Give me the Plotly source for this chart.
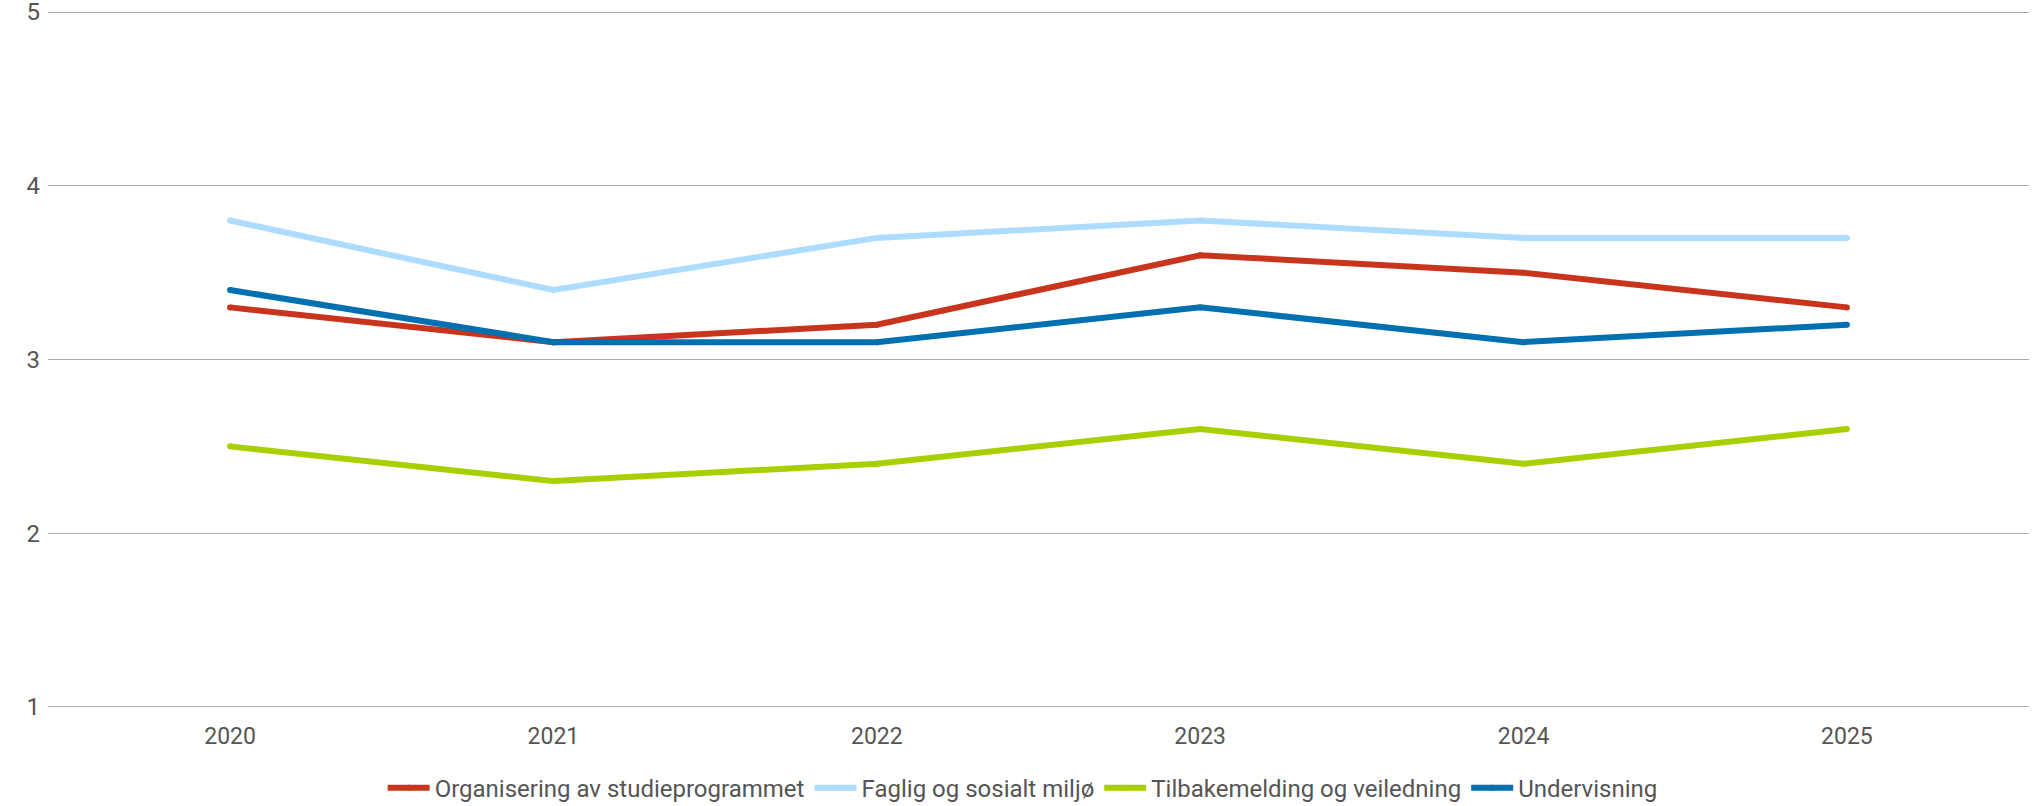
import plotly.graph_objects as go

years = ["2020", "2021", "2022", "2023", "2024", "2025"]
organisering = [3.3, 3.1, 3.2, 3.6, 3.5, 3.3]
faglig = [3.8, 3.4, 3.7, 3.8, 3.7, 3.7]
tilbakemelding = [2.5, 2.3, 2.4, 2.6, 2.4, 2.6]
undervisning = [3.4, 3.1, 3.1, 3.3, 3.1, 3.2]

series = [
    ("Organisering av studieprogrammet", organisering, "#c8341c"),
    ("Faglig og sosialt miljø", faglig, "#addcff"),
    ("Tilbakemelding og veiledning", tilbakemelding, "#a8d000"),
    ("Undervisning", undervisning, "#0070b0"),
]

fig = go.Figure()
for name, vals, color in series:
    fig.add_trace(go.Scatter(
        x=list(range(len(years))), y=vals, name=name, mode="lines+markers",
        line=dict(color=color, width=6),
        marker=dict(color=color, size=6, line=dict(width=0)),
    ))

fig.update_layout(
    width=2038, height=806,
    margin=dict(l=48, r=9, t=11, b=98),
    paper_bgcolor="white", plot_bgcolor="white",
    font=dict(family="Roboto", size=22, color="#555555"),
    showlegend=True,
    legend=dict(orientation="h", x=0.492, xanchor="center",
                yref="container", y=0.022, yanchor="middle",
                font=dict(size=24, color="#555555"), itemwidth=42,
                tracegroupgap=0),
    xaxis=dict(
        tickmode="array", tickvals=list(range(len(years))), ticktext=years,
        range=[-0.563, 5.563], showgrid=False, zeroline=False, showline=False,
        ticks="", ticklabelstandoff=12, automargin=False,
        tickfont=dict(size=23),
    ),
    yaxis=dict(
        range=[0.994, 5.006], tickmode="array", tickvals=[1, 2, 3, 4, 5],
        showgrid=True, gridcolor="#aaaaaa",
        gridwidth=1.3, zeroline=False, showline=False, ticks="",
        ticklabelstandoff=7, tickfont=dict(size=24),
        automargin=False, ticklabeloverflow="allow",
    ),
)

fig.write_html("out.html", config={"displayModeBar": False},
               post_script="document.body.style.margin='0';document.body.style.overflow='hidden';")
